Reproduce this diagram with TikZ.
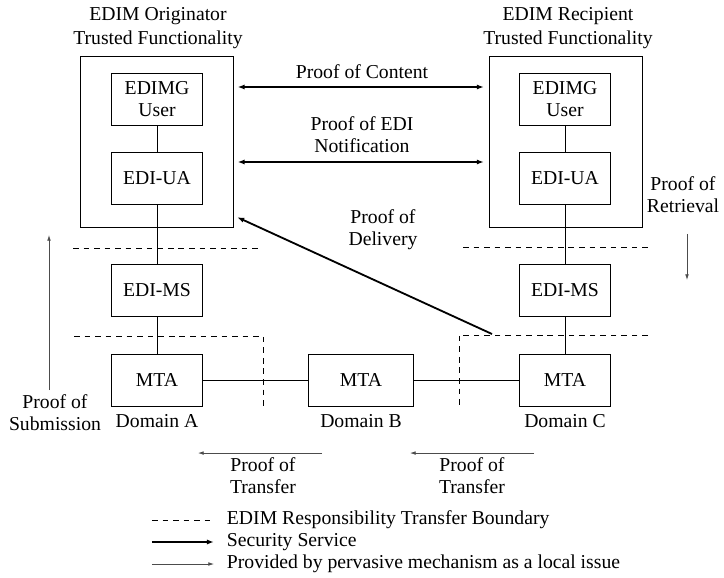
\documentclass[tikz,border=0pt]{standalone}
\usepackage{fontspec}
\setmainfont{Liberation Serif}
\usetikzlibrary{arrows.meta,positioning,calc}

\begin{document}
\begin{tikzpicture}[x=0.025cm,y=-0.025cm,font=\fontsize{14}{15.6}\selectfont,
  >={Latex[length=5pt,width=3.6pt]},
  box/.style={draw,line width=0.7pt,minimum width=2.275cm,minimum height=1.3cm,align=center,inner sep=1pt},
  tfbox/.style={draw,line width=0.7pt,minimum width=3.8cm,minimum height=4.25cm},
  link/.style={line width=0.7pt},
  boundary/.style={line width=0.7pt,dash pattern=on 4pt off 3.5pt},
  secserv/.style={line width=1.3pt},
  localiss/.style={line width=0.5pt,black!70,-{Latex[length=4pt,width=2.6pt]}},
  lbl/.style={align=center}]

  \useasboundingbox (0,0) rectangle (724,578);

  % trusted functionality on both sides
  \node[lbl] (titleO) at (158,28) {EDIM Originator\\[1.4pt]Trusted Functionality};
  \node[lbl] (titleR) at (568,28) {EDIM Recipient\\[1.4pt]Trusted Functionality};
  \node[tfbox] (tfO) at (157,142) {};
  \node[tfbox] (tfR) at (566,142) {};

  % the two EDI stacks
  \foreach \side/\dom/\x in {O/A/157,R/C/565} {
    \node[box] (user\side) at (\x,99) {EDIMG\\User};
    \node[box] (ua\side) at (\x,178) {EDI-UA};
    \node[box] (ms\side) at (\x,290) {EDI-MS};
    \node[box] (mta\dom) at (\x,380) {MTA};
    \node[below=0.08cm of mta\dom] (dom\dom) {Domain \dom};
    \draw[link] (user\side) -- (ua\side);
    \draw[link] (ua\side) -- (ms\side);
    \draw[link] (ms\side) -- (mta\dom);
  }
  \node[box,minimum width=2.6cm] (mtaB) at (361,380) {MTA};
  \node[below=0.08cm of mtaB] (domB) {Domain B};
  \draw[link] (mtaA) -- (mtaB);
  \draw[link] (mtaB) -- (mtaC);

  % responsibility transfer boundaries
  \draw[boundary] (73,248) -- (259,248);
  \draw[boundary] (463,247) -- (648,247);
  \draw[boundary] (74,336) -- (263,336) -- (263,407);
  \draw[boundary] (648,335) -- (459,335) -- (459,407);
  \coordinate (dlv) at (492,334);

  % security services
  \node[lbl] (pcont) at (362,72) {Proof of Content};
  \draw[secserv,<->,shorten <=1mm,shorten >=1.4mm] (tfO.east |- 0,87) -- (tfR.west |- 0,87);
  \node[lbl] (pnote) at (362,135) {Proof of EDI\\Notification};
  \draw[secserv,<->,shorten <=1mm,shorten >=1.4mm] (tfO.east |- 0,162) -- (tfR.west |- 0,162);
  \node[lbl] (pdlv) at (383,230) {Proof of\\Delivery};
  \draw[secserv,->,shorten >=1mm] (dlv) -- ($(tfO.south east)+(0,-12)$);

  % local issues
  \node[lbl] (psub) at (55,413) {Proof of\\Submission};
  \draw[localiss] (psub.north -| 49,0) -- ++(0,-155);
  \node[lbl] (pret) at (683,195) {Proof of\\Retrieval};
  \draw[localiss] ($(pret.south)+(4,16)$) -- ++(0,46);
  \node[lbl] (ptrA) at (263,476) {Proof of\\Transfer};
  \draw[localiss] (ptrA.north -| 322,0) -- ++(-124,0);
  \node[lbl] (ptrB) at (472,476) {Proof of\\Transfer};
  \draw[localiss] (ptrB.north -| 534,0) -- ++(-124,0);

  % legend
  \node[anchor=west] (legbnd) at (222,520) {EDIM Responsibility Transfer Boundary};
  \node[anchor=west] (legsec) at (222,542) {Security Service};
  \node[anchor=west] (legloc) at (222,564) {Provided by pervasive mechanism as a local issue};
  \draw[boundary] ([xshift=-1.75cm]legbnd.west) -- ([xshift=-0.2cm]legbnd.west);
  \draw[secserv,->] ([xshift=-1.75cm]legsec.west) -- ([xshift=-0.2cm]legsec.west);
  \draw[localiss] ([xshift=-1.75cm]legloc.west) -- ([xshift=-0.2cm]legloc.west);
\end{tikzpicture}
\end{document}
